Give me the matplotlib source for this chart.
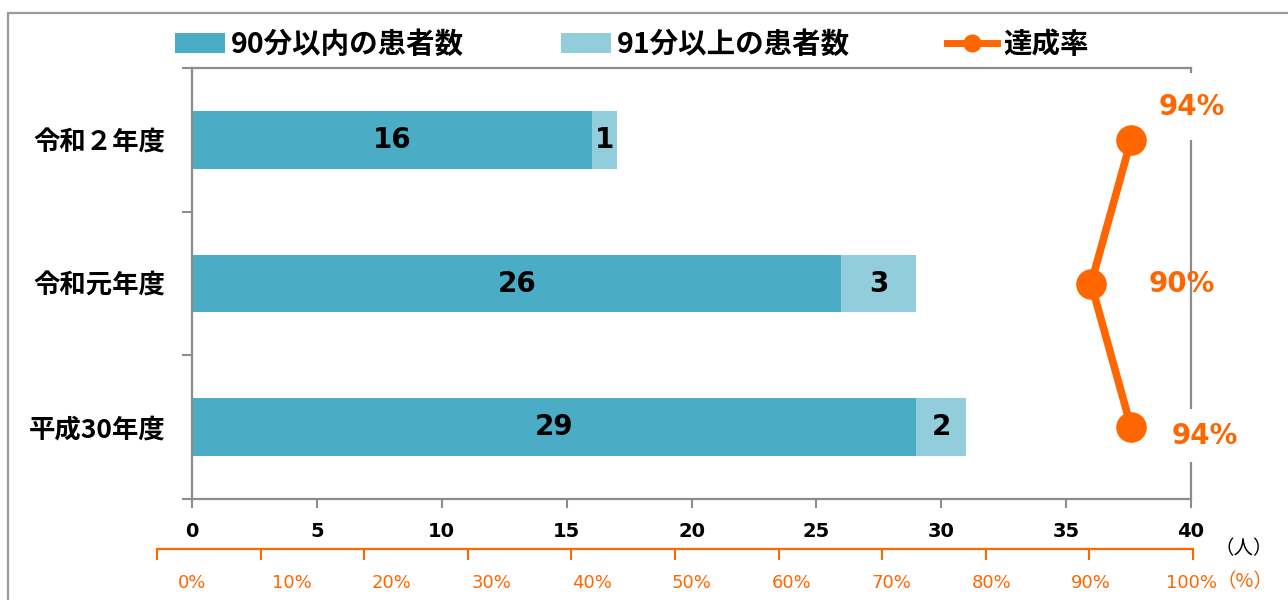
import matplotlib
matplotlib.use("Agg")
import matplotlib.pyplot as plt
from matplotlib.lines import Line2D
from matplotlib.patches import Patch, Rectangle

# ---- data (bottom to top) ----
categories = ["平成30年度", "令和元年度", "令和２年度"]
within90 = [29, 26, 16]
over91 = [2, 3, 1]
rate = [94, 90, 94]
rate_labels = ["94%", "90%", "94%"]
people_ticks = [0, 5, 10, 15, 20, 25, 30, 35, 40]
pct_ticks = [0, 10, 20, 30, 40, 50, 60, 70, 80, 90, 100]
legend_labels = ["90分以内の患者数", "91分以上の患者数", "達成率"]

C_DARK = "#4BACC6"
C_LIGHT = "#92CDDC"
C_ORANGE = "#FF6600"
C_GRAY = "#8C8C8C"
JP = ["Noto Sans CJK JP", "DejaVu Sans"]

W, H = 1288, 600
fig = plt.figure(figsize=(W / 100, H / 100), dpi=100)

# outer frame
fig.patches.append(Rectangle((8 / W, -0.1), 1.2, 1 - 13 / H + 0.1, transform=fig.transFigure,
                             fill=False, edgecolor="#9A9A9A", linewidth=1.6))

ax = fig.add_axes([192 / W, 1 - 499 / H, (1191 - 192) / W, (499 - 68) / H])
y = list(range(len(categories)))
b1 = ax.barh(y, within90, height=0.4, color=C_DARK, zorder=2)
b2 = ax.barh(y, over91, left=within90, height=0.4, color=C_LIGHT, zorder=2)
ax.bar_label(b1, labels=[str(v) for v in within90], label_type="center",
             fontsize=20, fontweight="bold", color="black", family="DejaVu Sans")
ax.bar_label(b2, labels=[str(v) for v in over91], label_type="center",
             fontsize=20, fontweight="bold", color="black", family="DejaVu Sans")

ax.set_xlim(0, 40)
ax.set_ylim(-0.5, len(categories) - 0.5)
ax.set_xticks(people_ticks)
ax.set_xticklabels([str(t) for t in people_ticks], fontsize=14, fontweight="bold", family="DejaVu Sans")
ax.tick_params(axis="x", which="both", direction="out", length=6.5, width=1.5, color=C_GRAY,
               top=True, bottom=True, labeltop=False, labelbottom=True, pad=10)
ax.set_yticks(y)
ax.set_yticklabels(categories, fontsize=19, fontweight="bold", family=JP)
ax.set_yticks([-0.5, 0.5, 1.5, 2.5], minor=True)
ax.tick_params(axis="y", which="major", length=0, pad=19)
ax.tick_params(axis="y", which="minor", length=7, width=1.5, color=C_GRAY, direction="out")
for s in ax.spines.values():
    s.set_color(C_GRAY)
    s.set_linewidth(1.6)

# percent axis (shares the plot width)
ax2 = ax.twiny()
ax2.set_xlim(0, 100)
ax2.set_ylim(ax.get_ylim())
ax2.plot(rate, y, color=C_ORANGE, linewidth=5.5, marker="o", markersize=21, zorder=5, clip_on=False)
for s in ax2.spines.values():
    s.set_visible(False)
ax2.xaxis.set_ticks_position("bottom")
ax2.xaxis.set_label_position("bottom")
ax2.set_xticks(pct_ticks)
ax2.set_xticklabels([f"{t}%" for t in pct_ticks], fontsize=13, color=C_ORANGE, family="DejaVu Sans")
ax2.tick_params(axis="x", length=0, pad=54)

offsets = [(53, -6), (65, 0), (44, 24)]
pads = [0.45, None, 0.7]
for xv, yv, lab, off, pd in zip(rate, y, rate_labels, offsets, pads):
    kw = {}
    if pd is not None:
        kw["bbox"] = dict(boxstyle=f"square,pad={pd}", fc="white", ec="none")
    ax.annotate(lab, xy=(xv, yv), xycoords=ax2.transData, xytext=off, textcoords="offset points",
                ha="center", va="center", fontsize=20, fontweight="bold", color=C_ORANGE,
                family="DejaVu Sans", zorder=4, **kw)

# orange axis line with ticks
ax3 = fig.add_axes([157 / W, 1 - 549 / H, (1193 - 157) / W, 0.0001])
ax3.set_xlim(0, len(pct_ticks) - 1)
ax3.set_xticks(range(len(pct_ticks)))
ax3.set_xticklabels([])
ax3.set_yticks([])
for k, s in ax3.spines.items():
    s.set_visible(k == "bottom")
ax3.spines["bottom"].set_color(C_ORANGE)
ax3.spines["bottom"].set_linewidth(1.6)
ax3.tick_params(axis="x", direction="out", length=8, width=1.5, color=C_ORANGE)
ax3.patch.set_visible(False)

fig.text(1244 / W, 1 - 549 / H, "（人）", ha="center", va="center", fontsize=14, family=JP, color="black")
fig.text(1245 / W, 1 - 582 / H, "（%）", ha="center", va="center", fontsize=14, family=JP, color=C_ORANGE)

# legend
handles = [Patch(facecolor=C_DARK, edgecolor="none"),
           Patch(facecolor=C_LIGHT, edgecolor="none"),
           Line2D([0], [0], color=C_ORANGE, linewidth=5, marker="o", markersize=12)]
leg = fig.legend(handles, legend_labels, loc="center left", bbox_to_anchor=(175 / W, 1 - 45 / H),
                 ncol=3, frameon=False, handlelength=1.75, handleheight=0.72, handletextpad=0.22,
                 columnspacing=3.4, borderpad=0, borderaxespad=0,
                 prop={"family": JP, "weight": "bold", "size": 20.5})

fig.savefig("out.png", dpi=100)
